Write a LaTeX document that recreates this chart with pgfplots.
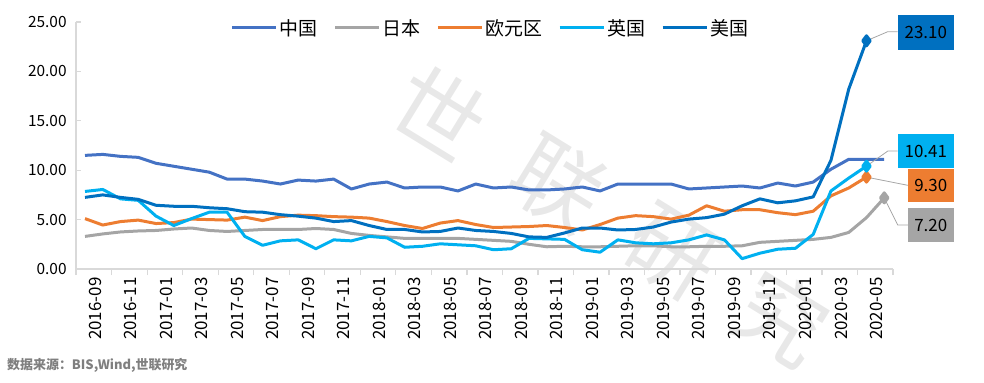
\documentclass[border=0pt]{standalone}
\usepackage{pgfplots}
\pgfplotsset{compat=1.18}
\usepackage{pgfplotstable}
\usepackage{fontspec}
\setmainfont{Noto Sans CJK SC}
\definecolor{cn}{HTML}{4472C4}
\definecolor{jp}{HTML}{A5A5A5}
\definecolor{eu}{HTML}{ED7D31}
\definecolor{uk}{HTML}{00B0F0}
\definecolor{us}{HTML}{0070C0}
\definecolor{axgray}{HTML}{D9D9D9}
\definecolor{ldr}{HTML}{A6A6A6}
\definecolor{srcgray}{HTML}{7F7F7F}
\definecolor{wm}{HTML}{E8E8E8}
\pgfplotstableread{
x cn jp eu uk us
0 11.5 3.3 5.1 7.85 7.25
1 11.6 3.55 4.45 8.05 7.5
2 11.4 3.75 4.8 7.1 7.25
3 11.3 3.85 4.95 6.95 7.05
4 10.7 3.9 4.6 5.35 6.45
5 10.4 4.05 4.7 4.4 6.35
6 10.1 4.15 5.05 5.1 6.35
7 9.8 3.9 5.0 5.75 6.2
8 9.1 3.8 4.95 5.75 6.1
9 9.1 3.9 5.25 3.3 5.8
10 8.9 4.0 4.9 2.4 5.75
11 8.6 4.0 5.3 2.85 5.5
12 9.0 4.0 5.45 2.95 5.35
13 8.9 4.1 5.4 2.05 5.15
14 9.1 4.0 5.3 2.95 4.8
15 8.1 3.6 5.25 2.85 4.9
16 8.6 3.4 5.15 3.3 4.4
17 8.8 3.25 4.8 3.15 4.0
18 8.2 3.1 4.4 2.2 4.0
19 8.3 3.1 4.1 2.3 3.75
20 8.3 3.1 4.65 2.55 3.8
21 7.9 3.1 4.9 2.45 4.15
22 8.6 3.0 4.5 2.35 3.9
23 8.2 2.9 4.2 1.95 3.8
24 8.3 2.8 4.25 2.05 3.6
25 8.0 2.5 4.3 3.1 3.25
26 8.0 2.25 4.4 3.05 3.2
27 8.1 2.3 4.2 3.0 3.65
28 8.3 2.25 3.95 1.95 4.15
29 7.9 2.25 4.5 1.7 4.15
30 8.6 2.3 5.15 2.95 3.95
31 8.6 2.35 5.4 2.65 4.0
32 8.6 2.35 5.3 2.55 4.25
33 8.6 2.25 5.05 2.65 4.75
34 8.1 2.25 5.45 2.95 5.05
35 8.2 2.3 6.4 3.45 5.2
36 8.3 2.3 5.85 2.95 5.55
37 8.4 2.35 6.0 1.05 6.4
38 8.2 2.7 6.0 1.6 7.1
39 8.7 2.8 5.7 2.0 6.7
40 8.4 2.9 5.5 2.1 6.9
41 8.8 3.0 5.85 3.5 7.3
42 10.1 3.2 7.4 7.9 11.0
43 11.1 3.7 8.2 9.2 18.2
44 11.1 5.2 9.3 10.41 23.1
45 11.1 7.2 nan nan nan
}\datatable
\begin{document}
\begin{tikzpicture}
\useasboundingbox (0bp,0bp) rectangle (984bp,-383bp);
\begin{scope}[every node/.style={rotate=-31.6, text=wm, font=\fontsize{90}{90}\selectfont, inner sep=0pt}]
\node at (440bp,-112bp) {世};
\node at (558bp,-184bp) {联};
\node at (672bp,-253bp) {研};
\node at (782bp,-318bp) {究};
\end{scope}
\begin{axis}[
  at={(85bp,-269bp)}, anchor=origin,
  scale only axis, width=817bp, height=247bp,
  xmin=-0.5, xmax=45.5, ymin=0, ymax=25,
  axis x line*=bottom, axis y line*=left,
  axis line style={draw=axgray, line width=1.3bp},
  xtick={0,2,...,44},
  xticklabels={2016-09,2016-11,2017-01,2017-03,2017-05,2017-07,2017-09,2017-11,2018-01,2018-03,2018-05,2018-07,2018-09,2018-11,2019-01,2019-03,2019-05,2019-07,2019-09,2019-11,2020-01,2020-03,2020-05},
  minor xtick={-0.5,1.5,...,45.5},
  major x tick style={draw=none},
  minor x tick style={draw=axgray, line width=1.3bp},
  minor tick length=6bp,
  xtick align=outside,
  ytick={0,5,...,25},
  ytick align=inside,
  major y tick style={draw=axgray, line width=1.3bp},
  major tick length=5bp,
  xticklabel style={rotate=90, anchor=east, font=\fontsize{17}{18}\selectfont, yshift=-10bp},
  yticklabel style={font=\fontsize{15.5}{18}\selectfont, xshift=-6bp, /pgf/number format/.cd, fixed, fixed zerofill, precision=2},
  /pgf/number format/assume math mode=true,
  scaled y ticks=false,
  clip=false,
  legend columns=5,
  legend style={at={(0.507,0.976)}, anchor=center, draw=none, fill=none,
    font=\fontsize{19}{22}\selectfont, inner sep=0pt,
    /tikz/every even column/.append style={column sep=14bp},
    nodes={inner xsep=2bp}},
  legend image code/.code={\draw[#1, line width=3bp] (0bp,0bp) -- (44bp,0bp);},
  every axis plot/.append style={line width=3bp, line join=round, mark=none},
]
\addplot[cn] table[x=x,y=cn]{\datatable};
\addlegendentry{中国}
\addplot[jp] table[x=x,y=jp]{\datatable};
\addlegendentry{日本}
\addplot[eu] table[x=x,y=eu]{\datatable};
\addlegendentry{欧元区}
\addplot[uk] table[x=x,y=uk]{\datatable};
\addlegendentry{英国}
\addplot[us] table[x=x,y=us]{\datatable};
\addlegendentry{美国}
\addplot[jp, only marks, mark=diamond*, mark size=5bp, forget plot] coordinates {(45,7.2)};
\addplot[eu, only marks, mark=diamond*, mark size=5bp, forget plot] coordinates {(44,9.3)};
\addplot[uk, only marks, mark=diamond*, mark size=5bp, forget plot] coordinates {(44,10.41)};
\addplot[us, only marks, mark=diamond*, mark size=5bp, forget plot] coordinates {(44,23.1)};
% leader lines
\draw[ldr, line width=0.8bp] (axis cs:44,23.1) -- (axis cs:45.2,24.02) -- (axis cs:45.76,24.02);
\draw[ldr, line width=0.8bp] (axis cs:44,10.41) -- (axis cs:45.2,11.94) -- (axis cs:45.76,11.94);
\draw[ldr, line width=0.8bp] (axis cs:44,9.3) -- (axis cs:46.33,8.47);
\draw[ldr, line width=0.8bp] (axis cs:45,7.2) -- (axis cs:45.76,4.45) -- (axis cs:46.33,4.45);
% data labels
\node[fill=us, minimum width=56bp, minimum height=35bp, inner sep=0pt, font=\fontsize{17}{20}\selectfont] at (axis cs:47.34,23.94) {23.10};
\node[fill=uk, minimum width=56bp, minimum height=34bp, inner sep=0pt, font=\fontsize{17}{20}\selectfont] at (axis cs:47.34,11.94) {10.41};
\node[fill=eu, minimum width=46bp, minimum height=33bp, inner sep=0pt, font=\fontsize{17}{20}\selectfont] at (axis cs:47.62,8.47) {9.30};
\node[fill=jp, minimum width=46bp, minimum height=34bp, inner sep=0pt, font=\fontsize{17}{20}\selectfont] at (axis cs:47.62,4.45) {7.20};
\end{axis}
\node[anchor=west, text=srcgray, font=\fontsize{13}{15}\selectfont\bfseries, inner sep=0pt] at (7bp,-365bp) {数据来源：BIS,Wind,世联研究};
\end{tikzpicture}
\end{document}
